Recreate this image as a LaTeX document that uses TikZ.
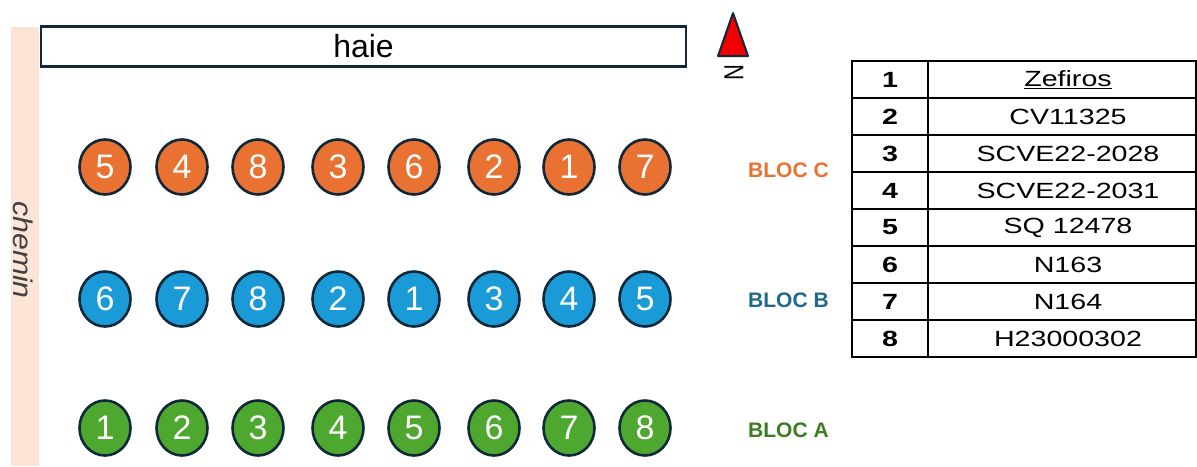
\documentclass[tikz,border=0pt]{standalone}
\usepackage{fontspec}
\setmainfont{Liberation Sans}
\newfontfamily\tabfont[FakeStretch=1.3]{Liberation Sans}
\newfontfamily\chemfont[FakeStretch=1.12]{Liberation Sans}
\usetikzlibrary{shapes.geometric}
\definecolor{orangeC}{HTML}{E97132}
\definecolor{blueB}{HTML}{1A9BD7}
\definecolor{greenA}{HTML}{4EA72E}
\definecolor{labC}{HTML}{E97132}
\definecolor{labB}{HTML}{1F6A8C}
\definecolor{labA}{HTML}{3B7D23}
\definecolor{edgedark}{HTML}{10283A}
\definecolor{road}{HTML}{FCE4D6}
\definecolor{northred}{HTML}{F00000}
\tikzset{
  x=1pt, y=-1pt,
  plot/.style={ellipse, draw=edgedark, line width=2.6pt, minimum width=51pt, minimum height=55pt,
    inner sep=0pt, text=white, font=\fontsize{34}{34}\selectfont},
  plotC/.style={plot, fill=orangeC},
  plotB/.style={plot, fill=blueB},
  plotA/.style={plot, fill=greenA},
  bloclabel/.style={font=\fontsize{21}{21}\selectfont\bfseries, anchor=west, inner sep=0pt},
  tabnum/.style={font=\tabfont\fontsize{22}{22}\selectfont\bfseries, inner sep=0pt},
  tabname/.style={font=\tabfont\fontsize{22}{22}\selectfont, inner sep=0pt},
}
\begin{document}
\begin{tikzpicture}
\useasboundingbox (0,0) rectangle (1197,466);
% chemin
\fill[road] (11,27) rectangle (39,466);
\node[font=\chemfont\itshape\fontsize{27}{27}\selectfont, text=black!75, rotate=-90] (chemin) at (23,250) {chemin};
% haie
\node[draw=edgedark, line width=2.4pt, minimum width=645pt, minimum height=40pt, inner sep=0pt,
  font=\fontsize{32}{32}\selectfont] (haie) at (363.5,46.5) {haie};
% north
\draw[fill=northred, draw=edgedark, line width=2pt, line join=round] (718,56) -- (733,13) -- (748,56) -- cycle;
\node[rotate=90, font=\fontsize{22}{22}\selectfont, inner sep=0pt] (north) at (734,73) {\scalebox{1}[1.25]{N}};
% rows
\foreach \n [count=\i] in {5,4,8,3,6,2,1,7} {
  \pgfmathsetmacro{\xx}{{105,182,258,338,414,494,569,645}[\i-1]}
  \node[plotC] (c\i) at (\xx,167) {\n};
}
\foreach \n [count=\i] in {6,7,8,2,1,3,4,5} {
  \pgfmathsetmacro{\xx}{{105,182,258,338,414,494,569,645}[\i-1]}
  \node[plotB] (b\i) at (\xx,299) {\n};
}
\foreach \n [count=\i] in {1,2,3,4,5,6,7,8} {
  \pgfmathsetmacro{\xx}{{105,182,258,338,414,494,569,645}[\i-1]}
  \node[plotA] (a\i) at (\xx,428) {\n};
}
% bloc labels
\node[bloclabel, text=labC] (blocC) at (748,170) {BLOC C};
\node[bloclabel, text=labB] (blocB) at (748,300) {BLOC B};
\node[bloclabel, text=labA] (blocA) at (748,430) {BLOC A};
% table
\draw[line width=1.8pt] (852,61) rectangle (1196,357);
\draw[line width=1.8pt] (928,61) -- (928,357);
\foreach \k in {1,...,7} {
  \draw[line width=1.6pt] (852,61+37*\k) -- (1196,61+37*\k);
}
\foreach \num/\name [count=\k] in {1/\underline{Zefiros},2/CV11325,3/SCVE22-2028,4/SCVE22-2031,5/SQ 12478,6/N163,7/N164,8/H23000302} {
  \node[tabnum] (tn\k) at (890,61+37*\k-18.5) {\num};
  \node[tabname] (tt\k) at (1068,61+37*\k-18.5) {\name};
}
\end{tikzpicture}
\end{document}
